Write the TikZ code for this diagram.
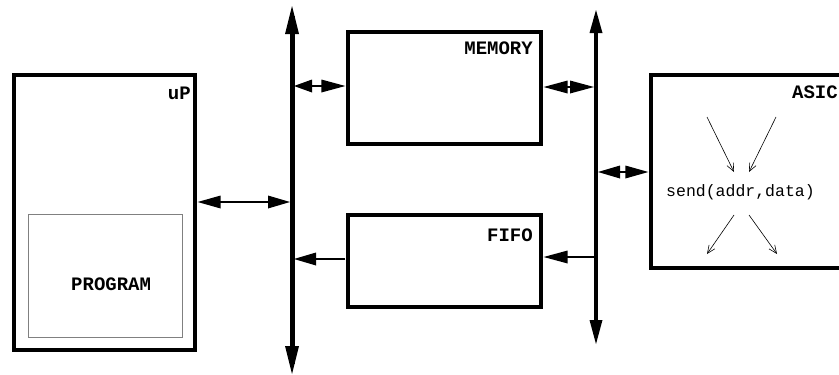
\documentclass[tikz,border=0pt]{standalone}
\usepackage{fontspec}
\setmonofont{Liberation Mono}
\usetikzlibrary{arrows.meta}
% arrow head: tip point, page direction angle, length, half width
\newcommand{\ahead}[4]{%
  \fill[rotate around={#2:(#1)}] (#1) -- ++(-#3,#4) -- ++(0,-2*#4) -- cycle;}
\begin{document}
\begin{tikzpicture}[x=1pt,y=-1pt,
  blk/.style={draw, line width=3.3pt, inner sep=0pt},
  lbl/.style={font=\ttfamily\bfseries\fontsize{19}{19}\selectfont, inner sep=0pt, anchor=north east},
  shaft/.style={line width=2.6pt},
  smallarrow/.style={line width=0.6pt, -{Straight Barb[length=8pt,width=7pt]}}]
\clip (0,0) rectangle (839,375);
\fill[white] (0,0) rectangle (839,375);
% boxes
\node[blk, minimum width=181pt, minimum height=275pt] (up) at (104.5,212.5) {};
\node[draw=gray, line width=0.7pt, minimum width=154pt, minimum height=123pt, inner sep=0pt] (prog) at (105,275.5) {};
\node[blk, minimum width=193pt, minimum height=112pt] (mem) at (444.5,88) {};
\node[blk, minimum width=193pt, minimum height=92pt] (fifo) at (444.5,261) {};
\node[blk, minimum width=260pt, minimum height=193pt] (asic) at (781,171.5) {};
% labels
\node[lbl] (tup) at (191,87) {uP};
\node[lbl, anchor=north west] (tprog) at (71,278) {PROGRAM};
\node[lbl] (tmem) at (533,42) {MEMORY};
\node[lbl] (tfifo) at (533,229) {FIFO};
\node[lbl] (tasic) at (838,86) {ASIC};
\node[font=\ttfamily\fontsize{16.5}{16.5}\selectfont, inner sep=0pt, anchor=west] (send) at (666,192) {send(addr,data)};
% buses
\coordinate (b1t) at (292,6);
\coordinate (b1b) at (292,374);
\coordinate (b2t) at (596,10);
\coordinate (b2b) at (596,344);
\draw[line width=5pt, shorten <=10pt, shorten >=10pt] (b1b) -- (b1t);
\ahead{b1t}{90}{28}{7}
\ahead{b1b}{270}{28}{7}
\draw[line width=4pt, shorten <=10pt, shorten >=10pt] (b2b) -- (b2t);
\ahead{b2t}{90}{23}{6.5}
\ahead{b2b}{270}{24}{6.5}
% bus taps
\coordinate (b1up) at (290,202);
\coordinate (b1mem) at (294,86);
\coordinate (b1fifo) at (294,259);
\coordinate (b2mem) at (594,87);
\coordinate (b2fifo) at (594,257);
\coordinate (b2asic) at (598,172);
\coordinate (upR) at ([xshift=1pt]up.east |- b1up);
\coordinate (memL) at ([xshift=-1pt]mem.west |- b1mem);
\coordinate (memR) at ([xshift=1pt]mem.east |- b2mem);
\coordinate (fifoL) at ([xshift=-1pt]fifo.west |- b1fifo);
\coordinate (fifoR) at ([xshift=1pt]fifo.east |- b2fifo);
\coordinate (asicL) at ([xshift=-1pt]asic.west |- b2asic);
% uP <-> bus1
\draw[shaft, shorten <=8pt, shorten >=8pt] (upR) -- (b1up);
\ahead{upR}{180}{23}{6.5}
\ahead{b1up}{0}{22}{6.5}
% bus1 <-> memory
\draw[shaft, shorten <=8pt, shorten >=8pt] (b1mem) -- (memL);
\ahead{b1mem}{180}{18}{6.5}
\ahead{memL}{0}{24}{6.5}
% fifo -> bus1
\draw[shaft, shorten >=8pt] (fifoL) -- (b1fifo);
\ahead{b1fifo}{180}{22}{6.5}
% memory <-> bus2
\draw[shaft, shorten <=8pt, shorten >=8pt] (memR) -- (b2mem);
\ahead{memR}{180}{24}{6.5}
\ahead{b2mem}{0}{24}{6.5}
% bus2 -> fifo
\draw[shaft, shorten >=8pt] (b2fifo) -- (fifoR);
\ahead{fifoR}{180}{24}{6.5}
% bus2 <-> asic
\draw[shaft, shorten <=8pt, shorten >=8pt] (b2asic) -- (asicL);
\ahead{b2asic}{180}{22}{6.5}
\ahead{asicL}{0}{23}{6.5}
% arrows inside ASIC
\coordinate (a1) at (707,117);
\coordinate (a2) at (734,172);
\coordinate (a3) at (776,117);
\coordinate (a4) at (749,172);
\coordinate (a5) at (734,215);
\coordinate (a6) at (707,254);
\coordinate (a7) at (749,215);
\coordinate (a8) at (777,254);
\draw[smallarrow] (a1) -- (a2);
\draw[smallarrow] (a3) -- (a4);
\draw[smallarrow] (a5) -- (a6);
\draw[smallarrow] (a7) -- (a8);
\end{tikzpicture}
\end{document}
